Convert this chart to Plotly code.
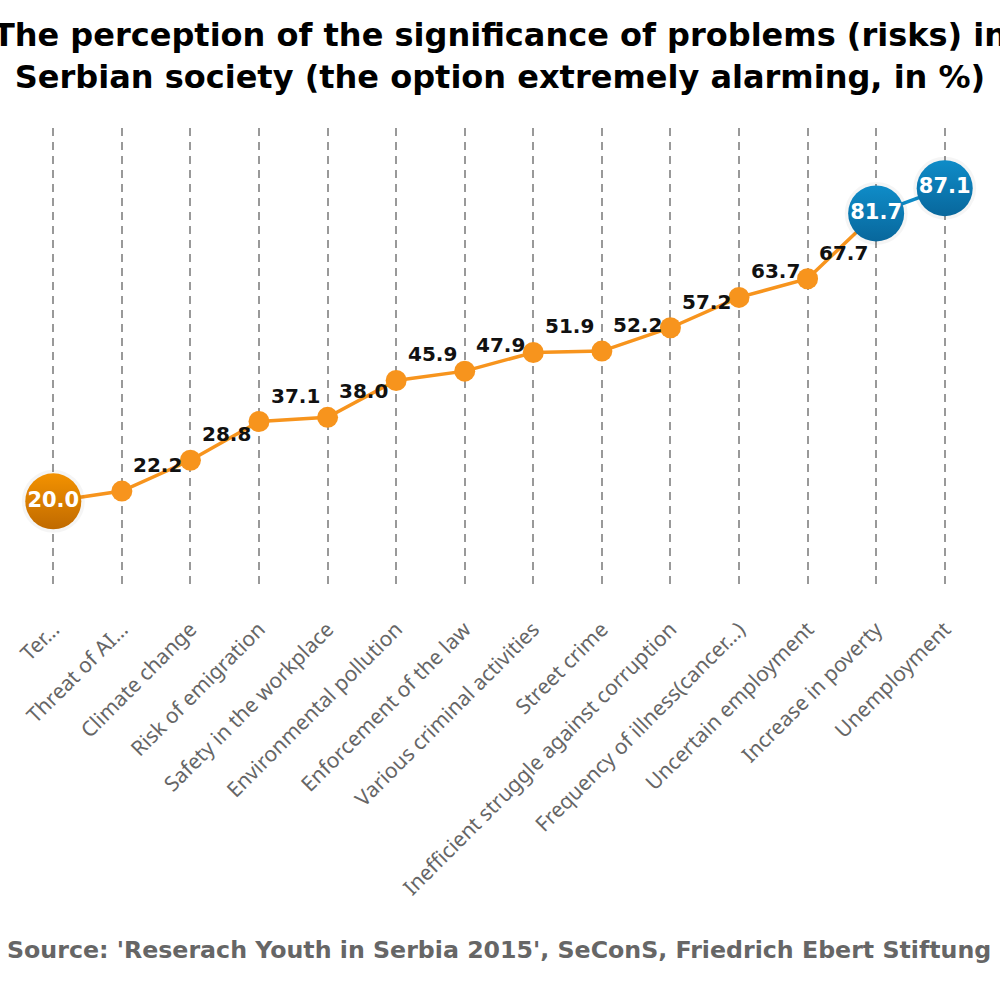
import plotly.graph_objects as go

# categories (as shown, including the truncated labels) and % "extremely alarming"
categories = [
    "Ter…",
    "Threat of AI…",
    "Climate change",
    "Risk of emigration",
    "Safety in the workplace",
    "Environmental pollution",
    "Enforcement of the law",
    "Various criminal activities",
    "Street crime",
    "Inefficient struggle against corruption",
    "Frequency of illness(cancer…)",
    "Uncertain employment",
    "Increase in poverty",
    "Unemployment",
]
values = [20.0, 22.2, 28.8, 37.1, 38.0, 45.9, 47.9, 51.9, 52.2, 57.2, 63.7, 67.7, 81.7, 87.1]

orange = "#F7941D"
blue = "#0E8AC6"

fig = go.Figure()

# orange line up to "Increase in poverty", blue segment for the last one
fig.add_trace(go.Scatter(
    x=categories[:13], y=values[:13], mode="lines+markers",
    line=dict(color=orange, width=3.5),
    marker=dict(color=orange, size=21),
    hoverinfo="skip", showlegend=False,
))
fig.add_trace(go.Scatter(
    x=categories[12:], y=values[12:], mode="lines",
    line=dict(color=blue, width=3.5),
    hoverinfo="skip", showlegend=False,
))

# highlighted points: lowest (orange) and top two (blue)
big_x = [categories[0], categories[12], categories[13]]
big_y = [values[0], values[12], values[13]]
big_col = ["#F39200", "#0F8CC8", "#0F8CC8"]
big_dark = ["#C06A00", "#08679C", "#08679C"]

# soft shadow
fig.add_trace(go.Scatter(
    x=big_x, y=big_y, mode="markers",
    marker=dict(color="rgba(0,0,0,0.04)", size=63, line=dict(width=0)),
    hoverinfo="skip", showlegend=False,
))
fig.add_trace(go.Scatter(
    x=big_x, y=big_y, mode="markers+text",
    marker=dict(color=big_col, size=56, line=dict(width=0),
                gradient=dict(type="vertical", color=big_dark)),
    text=[f"{v:.1f}" for v in big_y],
    textposition="middle center",
    textfont=dict(family="DejaVu Sans", size=21, color="white", weight="bold"),
    hoverinfo="skip", showlegend=False,
))

# value labels for the ordinary points, above-right of the marker
for c, v in zip(categories[1:12], values[1:12]):
    fig.add_annotation(
        x=c, y=v, text=f"{v:.1f}", showarrow=False,
        xshift=36, yshift=26,
        font=dict(family="DejaVu Sans", size=20, color="#111111", weight="bold"),
    )

fig.add_annotation(
    text="Source: 'Reserach Youth in Serbia 2015', SeConS, Friedrich Ebert Stiftung",
    xref="paper", yref="paper", x=0.5, y=-0.813, showarrow=False,
    font=dict(family="DejaVu Sans", size=23.7, color="#666666", weight="bold"),
)

fig.update_layout(
    width=1000, height=1000,
    margin=dict(l=19, r=21, t=128, b=410),
    paper_bgcolor="white", plot_bgcolor="white",
    title=dict(
        text="The perception of the significance of problems (risks) in<br>"
             "Serbian society (the option extremely alarming, in %)",
        x=0.5, xanchor="center", y=0.954, yanchor="top",
        font=dict(family="DejaVu Sans", size=32, color="black", weight="bold"),
    ),
)
fig.update_xaxes(
    type="category", range=[-0.5, 13.5],
    showgrid=True, gridcolor="#999999", gridwidth=2, griddash="8px,6px",
    showline=False, zeroline=False, ticks="",
    tickangle=-45, ticklabelstandoff=22,
    tickfont=dict(family="Noto Sans", size=21, color="#666666"),
)
fig.update_yaxes(
    range=[1, 100], showgrid=False, zeroline=False,
    showline=False, showticklabels=False, ticks="",
)

fig.write_html("out.html", config={"displayModeBar": False},
               post_script="document.body.style.margin='0';")
